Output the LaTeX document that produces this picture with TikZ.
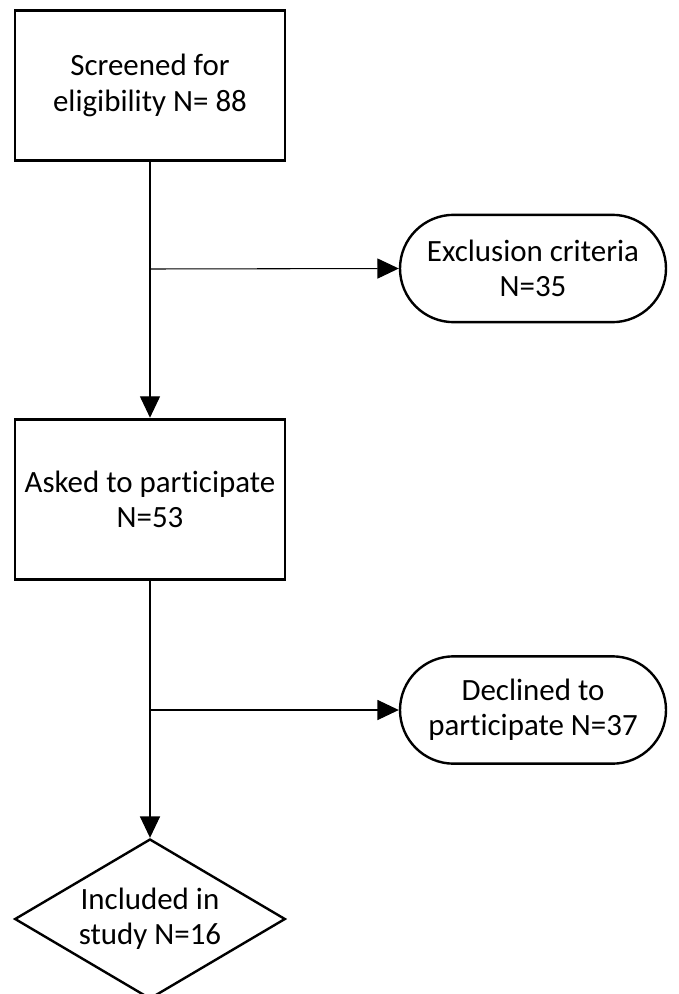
\documentclass[tikz,border=0pt]{standalone}
\usepackage{fontspec}
\setmainfont[Ligatures=NoCommon]{Carlito}
\usetikzlibrary{shapes.geometric,shapes.misc,arrows.meta}
\begin{document}
\begin{tikzpicture}[x=0.75pt,y=-0.75pt,
  every node/.style={font=\fontsize{23.2}{26.5}\selectfont, align=center, inner sep=0pt},
  boxnode/.style={draw, line width=2.2pt, minimum width=202.5pt},
  pill/.style={draw, line width=1.8pt, rounded rectangle, minimum width=199.5pt, minimum height=80.5pt},
  dia/.style={draw, line width=1.8pt, diamond, minimum width=203pt, minimum height=120pt},
  conn/.style={line width=0.8pt, -{Triangle[length=16pt,width=15pt]}}]
\useasboundingbox (0,0) rectangle (678,994);
\clip (0,0) rectangle (678,994);
\fill[white] (0,0) rectangle (678,994);
\node[boxnode, minimum height=113pt] (s) at (150,85.5) {Screened for\\eligibility N= 88};
\node[pill] (e) at (533,268.5) {Exclusion criteria\\N=35};
\node[boxnode, minimum height=120.5pt] (a) at (150,499.5) {Asked to participate\\N=53};
\node[pill] (d) at (533,710) {Declined to\\participate N=37};
\node[dia] (i) at (150,919) {};
\node (it) at (i.center) {Included in\\study N=16};
\coordinate (b1) at (150,269);
\coordinate (b2) at (150,710);
\draw[conn] (s.south) -- (a.north);
\draw[conn] (b1) -- (e.west);
\draw[conn] (a.south) -- (i.north);
\draw[conn] (b2) -- (d.west);
\end{tikzpicture}
\end{document}
